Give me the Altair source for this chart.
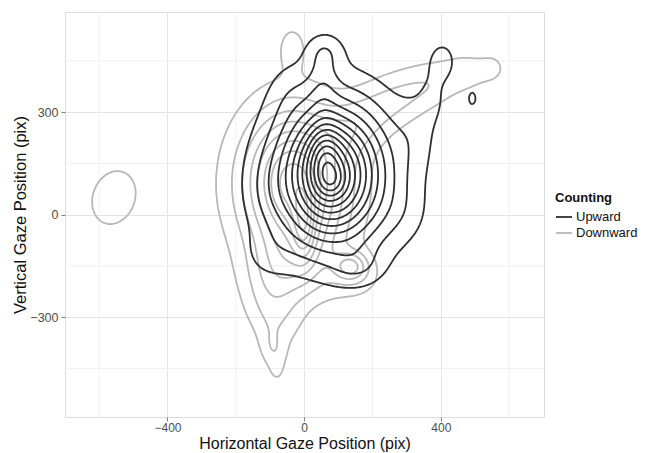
import numpy as np
import pandas as pd
import altair as alt
from collections import defaultdict

# ---- axis / layout values ----
x_domain = [-700, 702]
y_domain = [-592, 593]
x_ticks = [-400, 0, 400]
y_ticks = [-300, 0, 300]
minor_x = [-600, -200, 200, 600]
minor_y = [-450, -150, 150, 450]
groups = ["Upward", "Downward"]
group_colors = ["#2f2f2f", "#b8b8b8"]

# ---- density components ----
# Upward (black)
up_cx = [82, 60, 78, 88, -110, -110, 160, -40, 55, 60, 330, 380, 405, 492, 300]
up_cy = [100, 170, 115, 118, -120, 60, -150, 360, 380, 480, 250, 350, 450, 340, 0]
up_sx = [26, 32, 80, 135, 55, 50, 50, 50, 30, 40, 40, 30, 28, 10, 50]
up_sy = [32, 70, 108, 165, 55, 80, 40, 70, 60, 40, 80, 60, 40, 18, 60]
up_ang = [0, 0, 0, 0, 0, 0, 0, 0, 0, 0, 0, 0, 0, 0, 0]
up_amp = [1.2, 2.2, 5.2, 6.0, 0.7, 0.5, 0.9, 0.6, 1.0, 1.3, 0.7, 0.9, 1.5, 1.5, 0.4]
up_levels = list(range(1, 14))

# Downward (grey)
dn_cx = [-30, -40, 0, -10, -35, -90, -90, -80, -80, 138, 160, 150, 270, 390, 490, 555, -557]
dn_cy = [90, 100, -30, -120, 490, -300, -400, -470, -180, -152, -200, 260, 340, 390, 420, 430, 50]
dn_sx = [125, 75, 22, 80, 28, 55, 28, 20, 70, 35, 70, 80, 80, 70, 50, 28, 54]
dn_sy = [165, 120, 70, 80, 45, 70, 45, 30, 70, 30, 50, 55, 60, 50, 40, 30, 70]
dn_ang = [0, 0, 0, 0, 0, 25, 10, 0, 0, 0, 0, 30, 20, 15, 0, 0, -20]
dn_amp = [5.0, 3.5, 3.0, 1.5, 1.4, 1.5, 1.4, 0.6, 1.5, 3.2, 0.8, 1.6, 1.7, 1.3, 1.1, 0.9, 1.9]
dn_levels = list(range(1, 13))

xs = np.arange(-800, 801, 4.0)
ys = np.arange(-700, 701, 4.0)
X, Y = np.meshgrid(xs, ys)


def surface(cx, cy, sx, sy, ang, amp):
    Z = np.zeros_like(X)
    for x0, y0, a, b, t, h in zip(cx, cy, sx, sy, ang, amp):
        th = np.deg2rad(t)
        dx, dy = X - x0, Y - y0
        u = (dx * np.cos(th) + dy * np.sin(th)) / a
        v = (-dx * np.sin(th) + dy * np.cos(th)) / b
        Z += h * np.exp(-0.5 * (u * u + v * v))
    Z[0, :] = Z[-1, :] = 0
    Z[:, 0] = Z[:, -1] = 0
    return Z


TABLE = {1: [(3, 0)], 2: [(0, 1)], 3: [(3, 1)], 4: [(1, 2)], 6: [(0, 2)],
         7: [(3, 2)], 8: [(2, 3)], 9: [(0, 2)], 11: [(1, 2)], 12: [(3, 1)],
         13: [(0, 1)], 14: [(3, 0)]}


def ekey(e, j, i):
    if e == 0:
        return ("h", j, i)
    if e == 1:
        return ("v", j, i + 1)
    if e == 2:
        return ("h", j + 1, i)
    return ("v", j, i)


def march(Z, level):
    B = Z >= level
    idx = (B[:-1, :-1] * 1 + B[:-1, 1:] * 2 + B[1:, 1:] * 4 + B[1:, :-1] * 8)
    js, is_ = np.nonzero((idx > 0) & (idx < 15))
    adj = defaultdict(list)
    for j, i in zip(js, is_):
        c = idx[j, i]
        if c in (5, 10):
            center = (Z[j, i] + Z[j, i + 1] + Z[j + 1, i + 1] + Z[j + 1, i]) / 4
            inside = center >= level
            if c == 5:
                pairs = [(0, 1), (2, 3)] if inside else [(3, 0), (1, 2)]
            else:
                pairs = [(3, 0), (1, 2)] if inside else [(0, 1), (2, 3)]
        else:
            pairs = TABLE[c]
        for a, b in pairs:
            ka, kb = ekey(a, j, i), ekey(b, j, i)
            adj[ka].append(kb)
            adj[kb].append(ka)

    def pt(k):
        typ, j, i = k
        if typ == "h":
            z0, z1 = Z[j, i], Z[j, i + 1]
            t = (level - z0) / (z1 - z0)
            return xs[i] + t * (xs[i + 1] - xs[i]), ys[j]
        z0, z1 = Z[j, i], Z[j + 1, i]
        t = (level - z0) / (z1 - z0)
        return xs[i], ys[j] + t * (ys[j + 1] - ys[j])

    visited = set()
    paths = []
    for start in list(adj.keys()):
        if start in visited:
            continue
        path = [start]
        visited.add(start)
        cur = start
        while True:
            nx_ = [n for n in adj[cur] if n not in visited]
            if not nx_:
                break
            cur = nx_[0]
            visited.add(cur)
            path.append(cur)
        if len(path) > 2 and start in adj[path[-1]]:
            path.append(start)
        paths.append([pt(k) for k in path])
    return paths


rows = []
pid = 0
for name, comps, levels in [
    ("Upward", (up_cx, up_cy, up_sx, up_sy, up_ang, up_amp), up_levels),
    ("Downward", (dn_cx, dn_cy, dn_sx, dn_sy, dn_ang, dn_amp), dn_levels),
]:
    Z = surface(*comps)
    for lev in levels:
        for p in march(Z, lev):
            for o, (px, py) in enumerate(p):
                rows.append((name, pid, o, px, py))
            pid += 1

df = pd.DataFrame(rows, columns=["Counting", "path", "o", "x", "y"])

font = "Liberation Sans"
xs_scale = alt.Scale(domain=x_domain, nice=False, zero=False)
ys_scale = alt.Scale(domain=y_domain, nice=False, zero=False)
color_scale = alt.Scale(domain=groups, range=group_colors)

x_axis = alt.Axis(values=x_ticks, title="Horizontal Gaze Position (pix)", grid=True,
                  gridColor="#e4e4e4", domain=False, tickColor="#7f7f7f", tickSize=4,
                  labelColor="#4d4d4d", labelFontSize=12, labelFont=font,
                  titleFont=font, titleFontSize=16, titleFontWeight="normal",
                  titleColor="#111111", labelPadding=1, titlePadding=2)
y_axis = alt.Axis(values=y_ticks, title="Vertical Gaze Position (pix)", grid=True,
                  gridColor="#e4e4e4", domain=False, tickColor="#7f7f7f", tickSize=4,
                  labelColor="#4d4d4d", labelFontSize=12.5, labelFont=font,
                  titleFont=font, titleFontSize=16.5, titleFontWeight="normal",
                  titleColor="#111111", labelPadding=3, titlePadding=1)

minor_v = alt.Chart(pd.DataFrame({"x": minor_x})).mark_rule(
    color="#f1f1f1", strokeWidth=1).encode(x=alt.X("x:Q", scale=xs_scale, axis=x_axis))
minor_h = alt.Chart(pd.DataFrame({"y": minor_y})).mark_rule(
    color="#f1f1f1", strokeWidth=1).encode(y=alt.Y("y:Q", scale=ys_scale, axis=y_axis))


def lines(name):
    return alt.Chart(df[df["Counting"] == name]).mark_line(
        strokeWidth=1.8, clip=True, interpolate="linear").encode(
        x=alt.X("x:Q", scale=xs_scale, axis=x_axis),
        y=alt.Y("y:Q", scale=ys_scale, axis=y_axis),
        detail="path:N",
        order="o:Q",
        color=alt.Color("Counting:N", scale=color_scale, sort=groups,
                        legend=alt.Legend(title="Counting", orient="none",
                                          legendX=490, legendY=180,
                                          symbolType="stroke", symbolStrokeWidth=1.8,
                                          symbolSize=256, labelOffset=3, titleFont=font,
                                          titleFontSize=13, titleFontWeight="bold",
                                          titleColor="#111111", labelFont=font,
                                          labelFontSize=13, labelColor="#111111",
                                          rowPadding=0, titlePadding=3)),
    )


chart = alt.layer(minor_v, minor_h, lines("Downward"), lines("Upward")).properties(
    width=479, height=405,
    padding={"left": 57, "top": 4, "right": 94, "bottom": 36},
    autosize=alt.AutoSizeParams(type="none"),
).configure_view(stroke="#7f7f7f", strokeWidth=1.2).configure(background="white")

chart.save("out.html", embed_options={"renderer": "svg", "actions": False})
